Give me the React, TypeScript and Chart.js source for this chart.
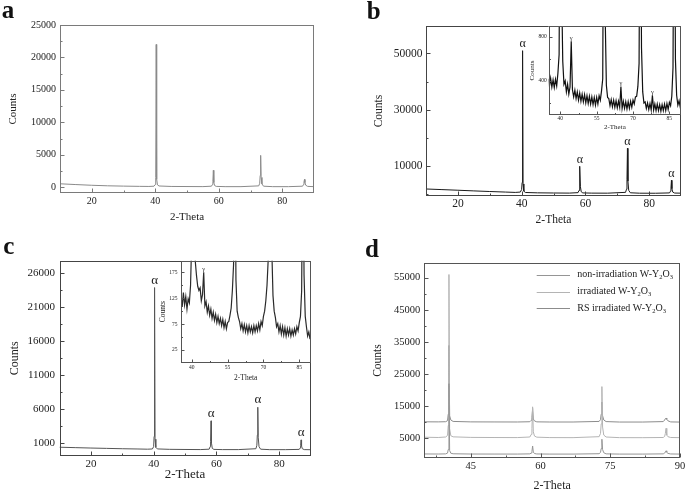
import React, { useEffect, useRef } from 'react';
import { Chart, registerables } from 'chart.js';

Chart.register(...registerables);

const FONT = "'Liberation Serif', 'Times New Roman', serif";

// ---------------- data ----------------
// main panels a, b, c share one 2-theta sampling
const mainTheta = [10, 15, 20, 25, 30, 35, 38, 39.6, 40.0, 40.15, 40.3, 40.45, 40.7, 41.2, 45, 50, 55, 57.7, 58.0, 58.15, 58.3, 58.45, 58.7, 59.2, 62, 67, 72.6, 72.9, 73.05, 73.2, 73.35, 73.6, 74.1, 77, 82, 86.4, 86.7, 86.85, 87.0, 87.15, 87.4, 88, 90];
const aCounts = [520, 400, 290, 210, 160, 125, 110, 150, 400, 1500, 22000, 1200, 350, 180, 110, 95, 85, 150, 400, 900, 2600, 700, 250, 120, 80, 80, 200, 600, 1800, 4900, 1500, 500, 150, 80, 80, 150, 400, 800, 1200, 700, 300, 120, 80];
const bCounts = [1700, 1480, 1260, 1020, 800, 600, 480, 600, 1500, 4000, 51000, 3500, 900, 450, 330, 270, 235, 400, 1200, 3000, 9800, 2500, 700, 300, 230, 210, 500, 1600, 5000, 16200, 4500, 1200, 350, 200, 185, 300, 900, 2000, 4800, 1800, 600, 250, 210];
const cCounts = [420, 360, 300, 250, 200, 160, 130, 160, 500, 2000, 23900, 1600, 400, 170, 110, 90, 75, 130, 500, 1300, 4300, 1000, 250, 100, 70, 70, 200, 700, 2200, 6300, 1800, 500, 130, 65, 65, 100, 300, 700, 1500, 600, 200, 70, 55];

// alpha-phase peak labels
const bAlphaTheta = [40.3, 58.3, 73.2, 87.0];
const bAlphaCounts = [51000, 9800, 16200, 4800];
const cAlphaTheta = [40.3, 58.3, 73.2, 87.0];
const cAlphaCounts = [23900, 4300, 6300, 1500];

// inset b: sampled from 35.0 every 0.5 degree
const insetBStart = 35.0;
const insetBStep = 0.5;
const insetBCounts = [
  420, 350, 425, 345, 410, 340, 415, 355, 470, 640,
  3000, 1300, 580, 370, 400, 300, 370, 280, 345, 760,
  320, 255, 315, 240, 300, 225, 290, 215, 280, 210,
  275, 200, 265, 195, 260, 190, 255, 185, 250, 180,
  250, 190, 265, 225, 310, 420, 3000, 1000, 360, 250,
  240, 175, 230, 165, 225, 160, 220, 155, 215, 160,
  350, 150, 215, 150, 210, 145, 210, 150, 215, 160,
  225, 190, 255, 260, 350, 560, 3000, 700, 300, 200,
  210, 150, 200, 140, 195, 135, 270, 135, 190, 130,
  190, 130, 185, 125, 185, 130, 190, 130, 195, 140,
  205, 175, 260, 520, 3000, 600, 270, 180, 220, 160,
  205,
];
const bGammaTheta = [44.5, 65.0, 78.0];
const bGammaCounts = [760, 350, 270];

// inset c: sampled from 35.5 every 0.5 degree
const insetCStart = 35.5;
const insetCStep = 0.5;
const insetCCounts = [
  130, 108, 136, 112, 128, 104, 124, 116, 150,
  240, 600, 260, 195, 168, 148, 140, 145, 120, 132,
  175, 110, 118, 98, 110, 92, 104, 86, 98, 82,
  94, 78, 90, 76, 86, 72, 84, 68, 80, 66,
  78, 80, 92, 106, 140, 190, 500, 160, 100, 88,
  80, 66, 76, 62, 74, 60, 72, 58, 72, 60,
  70, 58, 72, 60, 72, 62, 76, 64, 80, 72,
  90, 100, 120, 150, 200, 400, 500, 220, 130, 100,
  88, 70, 76, 60, 72, 56, 70, 54, 68, 52,
  66, 54, 66, 52, 64, 54, 66, 56, 70, 62,
  78, 90, 140, 500, 170, 90, 70, 52, 60, 46,
];
const cGammaTheta = [45.0];
const cGammaCounts = [175];

// panel d
const dTheta = [35, 38, 39.6, 40.0, 40.15, 40.3, 40.45, 40.7, 41.2, 45, 50, 55, 57.7, 58.0, 58.15, 58.3, 58.45, 58.7, 59.2, 62, 67, 72.6, 72.9, 73.05, 73.2, 73.35, 73.6, 74.1, 77, 82, 86.4, 86.7, 86.85, 87.0, 87.15, 87.4, 88, 90];
const dNonIrradiated = [120, 100, 150, 400, 1500, 22000, 1200, 350, 180, 100, 90, 85, 150, 400, 900, 2600, 700, 250, 120, 80, 80, 200, 600, 1800, 4700, 1500, 500, 150, 80, 80, 150, 400, 700, 1100, 650, 300, 120, 80];
const dIrradiated = [5330, 5250, 5400, 5900, 9000, 56000, 8000, 5800, 5450, 5280, 5240, 5220, 5400, 6200, 8000, 14800, 7000, 5700, 5350, 5220, 5200, 5500, 6500, 9500, 21100, 8500, 6000, 5400, 5200, 5190, 5250, 5600, 6500, 8100, 6000, 5500, 5250, 5200];
const dRsIrradiated = [10130, 10110, 10160, 10500, 12500, 33900, 12000, 10700, 10250, 10110, 10090, 10075, 10150, 10600, 11500, 14300, 11000, 10400, 10120, 10070, 10070, 10250, 10800, 12500, 16300, 12000, 10700, 10200, 10060, 10060, 10200, 10700, 11100, 11300, 10900, 10450, 10100, 10050];
const dLabels = ['non-irradiation W-Y₂O₃', 'irradiated W-Y₂O₃', 'RS irradiated W-Y₂O₃'];

// tick values
const mainXTicks = [20, 40, 60, 80];
const mainXMinor = [30, 50, 70];
const aYTicks = [0, 5000, 10000, 15000, 20000, 25000];
const aYMinor = [2500, 7500, 12500, 17500, 22500];
const bYTicks = [10000, 30000, 50000];
const bYMinor = [0, 20000, 40000];
const cYTicks = [1000, 6000, 11000, 16000, 21000, 26000];
const cYMinor = [3500, 8500, 13500, 18500, 23500];
const insetXTicks = [40, 55, 70, 85];
const insetXMinor = [47.5, 62.5, 77.5];
const insetBYTicks = [400, 800];
const insetBYMinor = [200, 600];
const insetCYTicks = [25, 75, 125, 175];
const insetCYMinor = [50, 100, 150];
const dXTicks = [45, 60, 75, 90];
const dXMinor = [37.5, 52.5, 67.5, 82.5];
const dYTicks = [5000, 15000, 25000, 35000, 45000, 55000];
const dYMinor = [10000, 20000, 30000, 40000, 50000];

const gridX = (start: number, step: number, n: number) => Array.from({ length: n }, (_, i) => +(start + i * step).toFixed(2));

// ---------------- chart machinery ----------------
type Series = { x: number[]; y: number[]; color: string; label?: string; width?: number };
type Marks = { x: number[]; y: number[]; glyph: string; size: number; gap: number };
type Legend = { dx1: number; dx2: number; dxText: number; dy: number[]; size: number };
type Panel = {
  key: string;
  box: { x: number; y: number; w: number; h: number };
  area: { l: number; t: number; r: number; b: number };
  xRange: [number, number];
  yRange: [number, number];
  xMajor: number[]; xMinor: number[]; yMajor: number[]; yMinor: number[];
  tickSize: number; xTitleSize: number; yTitleSize: number;
  yTitlePad: number; xTitlePad: number; yTickPad: number; xTickPad: number;
  majorLen: number; minorLen: number;
  frame: string; text: string;
  series: Series[];
  marks?: Marks;
  legend?: Legend;
  fillArea?: boolean;
};

const SUBS: Record<string, string> = { '₂': '2', '₃': '3' };

function drawRich(ctx: CanvasRenderingContext2D, text: string, x: number, y: number, size: number) {
  let cx = x;
  let run = '';
  const flush = () => {
    if (!run) return;
    ctx.font = `${size}px ${FONT}`;
    ctx.fillText(run, cx, y);
    cx += ctx.measureText(run).width;
    run = '';
  };
  for (const ch of text) {
    if (SUBS[ch]) {
      flush();
      ctx.font = `${size * 0.65}px ${FONT}`;
      ctx.fillText(SUBS[ch], cx, y + size * 0.3);
      cx += ctx.measureText(SUBS[ch]).width;
    } else {
      run += ch;
    }
  }
  flush();
}

function makeDeco(p: Panel) {
  return {
    id: 'deco_' + p.key,
    beforeDraw(chart: any) {
      if (!p.fillArea) return;
      const { left, top, right, bottom } = chart.chartArea;
      const ctx = chart.ctx;
      ctx.save();
      ctx.fillStyle = '#ffffff';
      ctx.fillRect(left, top, right - left, bottom - top);
      ctx.restore();
    },
    afterDatasetsDraw(chart: any) {
      const ctx: CanvasRenderingContext2D = chart.ctx;
      const { left, top, right, bottom } = chart.chartArea;
      const xs = chart.scales.x;
      const ys = chart.scales.y;
      const L = Math.round(left) + 0.5;
      const T = Math.round(top) + 0.5;
      const R = Math.round(right) - 0.5;
      const B = Math.round(bottom) - 0.5;
      ctx.save();
      ctx.strokeStyle = p.frame;
      ctx.lineWidth = 1;
      ctx.strokeRect(L, T, R - L, B - T);
      ctx.beginPath();
      const xt = (vals: number[], len: number) => {
        for (const v of vals) {
          const px = Math.round(xs.getPixelForValue(v)) + 0.5;
          ctx.moveTo(px, B);
          ctx.lineTo(px, B - len);
        }
      };
      const yt = (vals: number[], len: number) => {
        for (const v of vals) {
          const py = Math.round(ys.getPixelForValue(v)) + 0.5;
          ctx.moveTo(L, py);
          ctx.lineTo(L + len, py);
        }
      };
      xt(p.xMajor, p.majorLen);
      xt(p.xMinor, p.minorLen);
      yt(p.yMajor, p.majorLen);
      yt(p.yMinor, p.minorLen);
      ctx.stroke();

      if (p.marks) {
        const m = p.marks;
        ctx.fillStyle = p.text;
        ctx.font = `${m.size}px ${FONT}`;
        ctx.textAlign = 'center';
        ctx.textBaseline = 'alphabetic';
        m.x.forEach((xv, i) => {
          const px = xs.getPixelForValue(xv);
          const py = ys.getPixelForValue(m.y[i]);
          ctx.fillText(m.glyph, px, py - m.gap);
        });
      }
      if (p.legend) {
        const lg = p.legend;
        ctx.textAlign = 'left';
        ctx.textBaseline = 'middle';
        p.series.forEach((s, i) => {
          const y = top + lg.dy[i];
          ctx.strokeStyle = s.color;
          ctx.beginPath();
          ctx.moveTo(right + lg.dx1, Math.round(y) + 0.5);
          ctx.lineTo(right + lg.dx2, Math.round(y) + 0.5);
          ctx.stroke();
          ctx.fillStyle = p.text;
          drawRich(ctx, s.label || '', right + lg.dxText, y, lg.size);
        });
      }
      ctx.restore();
    },
  };
}

function buildConfig(p: Panel): any {
  const tickFont = { family: FONT, size: p.tickSize };
  const grid = { display: false, drawTicks: false, tickLength: 0 };
  return {
    type: 'line',
    data: {
      datasets: p.series.map((s) => ({
        label: s.label || '',
        data: s.x.map((x, i) => ({ x, y: s.y[i] })),
        borderColor: s.color,
        borderWidth: s.width ?? 1,
        pointRadius: 0,
        pointHoverRadius: 0,
        tension: 0,
        fill: false,
      })),
    },
    options: {
      animation: false,
      responsive: false,
      maintainAspectRatio: false,
      events: [],
      layout: { padding: { top: p.area.t, right: p.box.w - p.area.r, left: 0, bottom: 0 } },
      plugins: { legend: { display: false }, tooltip: { enabled: false } },
      scales: {
        x: {
          type: 'linear',
          min: p.xRange[0],
          max: p.xRange[1],
          grid,
          border: { display: false },
          afterBuildTicks: (s: any) => { s.ticks = p.xMajor.map((v) => ({ value: v })); },
          afterFit: (s: any) => { s.height = p.box.h - p.area.b; },
          ticks: { font: tickFont, color: p.text, padding: p.xTickPad, maxRotation: 0, autoSkip: false, callback: (v: any) => String(v) },
          title: { display: true, text: '2-Theta', color: p.text, font: { family: FONT, size: p.xTitleSize }, padding: { top: 0, bottom: p.xTitlePad } },
        },
        y: {
          type: 'linear',
          min: p.yRange[0],
          max: p.yRange[1],
          grid,
          border: { display: false },
          afterBuildTicks: (s: any) => { s.ticks = p.yMajor.map((v) => ({ value: v })); },
          afterFit: (s: any) => { s.width = p.area.l; },
          ticks: { font: tickFont, color: p.text, padding: p.yTickPad, autoSkip: false, callback: (v: any) => String(v) },
          title: { display: true, text: 'Counts', color: p.text, font: { family: FONT, size: p.yTitleSize }, padding: { top: p.yTitlePad, bottom: 0 } },
        },
      },
    },
    plugins: [makeDeco(p)],
  };
}

function PanelChart({ p }: { p: Panel }) {
  const ref = useRef<HTMLCanvasElement>(null);
  useEffect(() => {
    const chart = new Chart(ref.current as HTMLCanvasElement, buildConfig(p));
    return () => chart.destroy();
  }, []);
  return (
    <canvas
      ref={ref}
      width={p.box.w}
      height={p.box.h}
      style={{ position: 'absolute', left: p.box.x, top: p.box.y, width: p.box.w, height: p.box.h }}
    />
  );
}

// ---------------- panels ----------------
const panelA: Panel = {
  key: 'a',
  box: { x: 0, y: 0, w: 340, h: 240 },
  area: { l: 60, t: 25, r: 314, b: 193 },
  xRange: [10, 90], yRange: [-900, 25000],
  xMajor: mainXTicks, xMinor: mainXMinor, yMajor: aYTicks, yMinor: aYMinor,
  tickSize: 10, xTitleSize: 11, yTitleSize: 11,
  yTitlePad: 6.7, xTitlePad: 16.4, yTickPad: 4, xTickPad: 2.7,
  majorLen: 4, minorLen: 2, frame: '#7a7a7a', text: '#222',
  series: [{ x: mainTheta, y: aCounts, color: '#8a8a8a' }],
};

const panelB: Panel = {
  key: 'b',
  box: { x: 340, y: 0, w: 360, h: 240 },
  area: { l: 86, t: 26, r: 341, b: 196 },
  xRange: [10, 90], yRange: [-800, 59800],
  xMajor: mainXTicks, xMinor: mainXMinor, yMajor: bYTicks, yMinor: bYMinor,
  tickSize: 11.5, xTitleSize: 11.5, yTitleSize: 11.5,
  yTitlePad: 32.4, xTitlePad: 13.1, yTickPad: 3.5, xTickPad: 1.1,
  majorLen: 4, minorLen: 2, frame: '#444', text: '#222',
  series: [{ x: mainTheta, y: bCounts, color: '#1a1a1a' }],
  marks: { x: bAlphaTheta, y: bAlphaCounts, glyph: 'α', size: 12, gap: 3.5 },
};

const panelBInset: Panel = {
  key: 'bi',
  box: { x: 500, y: 0, w: 200, h: 150 },
  area: { l: 48.7, t: 26, r: 181, b: 115 },
  xRange: [35.2, 89.8], yRange: [90, 900],
  xMajor: insetXTicks, xMinor: insetXMinor, yMajor: insetBYTicks, yMinor: insetBYMinor,
  tickSize: 5.5, xTitleSize: 7, yTitleSize: 7,
  yTitlePad: 28.1, xTitlePad: 19.1, yTickPad: 2, xTickPad: 0.3,
  majorLen: 3, minorLen: 1.5, frame: '#555', text: '#222',
  series: [{ x: gridX(insetBStart, insetBStep, insetBCounts.length), y: insetBCounts, color: '#111', width: 1.2 }],
  marks: { x: bGammaTheta, y: bGammaCounts, glyph: 'γ', size: 6.5, gap: 1 },
  fillArea: true,
};

const panelC: Panel = {
  key: 'c',
  box: { x: 0, y: 240, w: 340, h: 250 },
  area: { l: 59.5, t: 20.7, r: 310.5, b: 216 },
  xRange: [10, 90], yRange: [-870, 27850],
  xMajor: mainXTicks, xMinor: mainXMinor, yMajor: cYTicks, yMinor: cYMinor,
  tickSize: 11, xTitleSize: 13, yTitleSize: 12,
  yTitlePad: 7.8, xTitlePad: 7.2, yTickPad: 4.5, xTickPad: 1.7,
  majorLen: 4, minorLen: 2, frame: '#444', text: '#222',
  series: [{ x: mainTheta, y: cCounts, color: '#555' }],
  marks: { x: cAlphaTheta, y: cAlphaCounts, glyph: 'α', size: 13, gap: 4 },
};

const panelCInset: Panel = {
  key: 'ci',
  box: { x: 140, y: 240, w: 200, h: 150 },
  area: { l: 41, t: 20.7, r: 170.5, b: 122.7 },
  xRange: [35.5, 89.7], yRange: [0.5, 197.4],
  xMajor: insetXTicks, xMinor: insetXMinor, yMajor: insetCYTicks, yMinor: insetCYMinor,
  tickSize: 5.5, xTitleSize: 7.5, yTitleSize: 7.5,
  yTitlePad: 18.8, xTitlePad: 7.8, yTickPad: 3.5, xTickPad: 1.3,
  majorLen: 3, minorLen: 1.5, frame: '#555', text: '#222',
  series: [{ x: gridX(insetCStart, insetCStep, insetCCounts.length), y: insetCCounts, color: '#2a2a2a', width: 1.2 }],
  marks: { x: cGammaTheta, y: cGammaCounts, glyph: 'γ', size: 6.5, gap: 1 },
  fillArea: true,
};

const panelD: Panel = {
  key: 'd',
  box: { x: 340, y: 240, w: 360, h: 260 },
  area: { l: 84.3, t: 22.7, r: 340, b: 218.3 },
  xRange: [35, 90], yRange: [-1230, 59670],
  xMajor: dXTicks, xMinor: dXMinor, yMajor: dYTicks, yMinor: dYMinor,
  tickSize: 10.5, xTitleSize: 12, yTitleSize: 11.5,
  yTitlePad: 30.8, xTitlePad: 7.1, yTickPad: 4, xTickPad: 1.4,
  majorLen: 4, minorLen: 2, frame: '#555', text: '#222',
  series: [
    { x: dTheta, y: dNonIrradiated, color: '#959595', label: dLabels[0] },
    { x: dTheta, y: dIrradiated, color: '#b4b4b4', label: dLabels[1] },
    { x: dTheta, y: dRsIrradiated, color: '#8c8c8c', label: dLabels[2] },
  ],
  legend: { dx1: -143.3, dx2: -110, dxText: -102.7, dy: [12, 29, 45.6], size: 10 },
};

const letters = [
  { t: 'a', x: 1.7, y: -2.6 },
  { t: 'b', x: 366.7, y: -1.6 },
  { t: 'c', x: 3.3, y: 233.1 },
  { t: 'd', x: 365, y: 235.8 },
];

export default function App() {
  return (
    <div style={{ position: 'fixed', left: 0, top: 0, width: 685, height: 490, overflow: 'hidden', background: '#fff' }}>
      <PanelChart p={panelA} />
      <PanelChart p={panelB} />
      <PanelChart p={panelBInset} />
      <PanelChart p={panelC} />
      <PanelChart p={panelCInset} />
      <PanelChart p={panelD} />
      {letters.map((l) => (
        <div
          key={l.t}
          style={{
            position: 'absolute', left: l.x, top: l.y, fontFamily: FONT, fontWeight: 'bold',
            fontSize: 25, lineHeight: '25px', color: '#111',
          }}
        >
          {l.t}
        </div>
      ))}
    </div>
  );
}
